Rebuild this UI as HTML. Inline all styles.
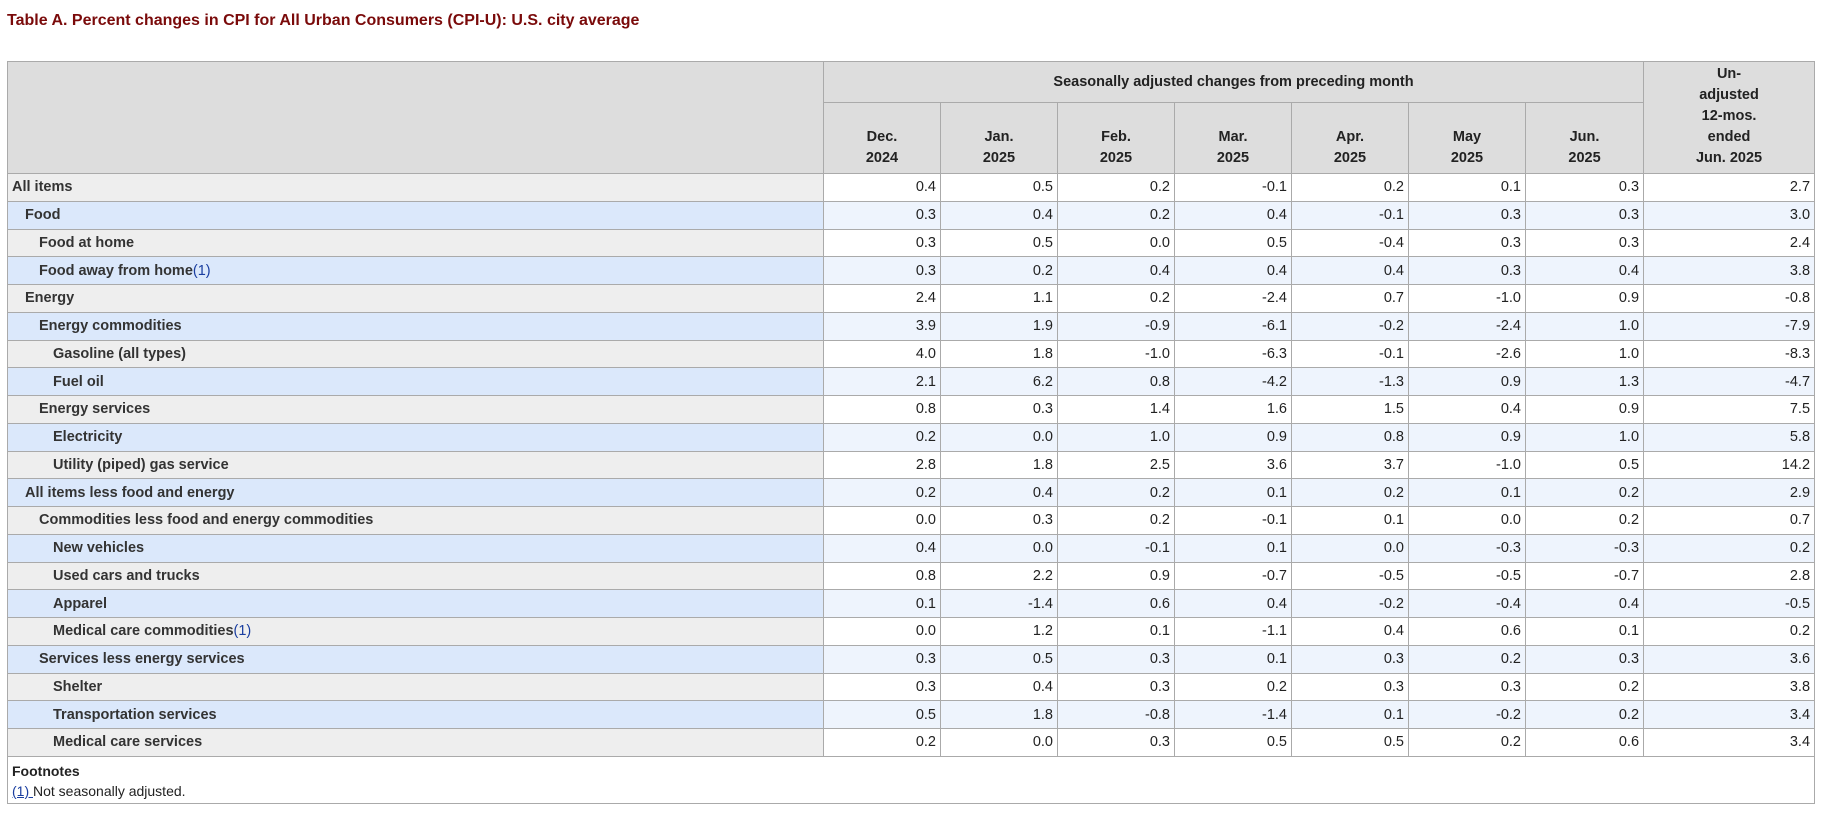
<!DOCTYPE html>
<html><head><meta charset="utf-8"><style>
body{margin:0;background:#fff;font-family:"Liberation Sans",Arial,sans-serif;width:1826px;height:822px;overflow:hidden}
h1{position:absolute;left:7px;top:12px;margin:0;font-size:16px;font-weight:bold;color:#7a0a0a}
table{position:absolute;left:7px;top:61px;border-collapse:collapse;width:1807px;table-layout:fixed}
td,th{border:1px solid #aaa;font-size:14.5px;padding:0 4px;color:#222}
th{background:#ddd;font-weight:bold;line-height:21px}
tbody td{height:26.75px;text-align:right}
tbody td.l{text-align:left;font-weight:bold;color:#333}
tbody tr:nth-child(odd) td.l{background:#eee}
tbody tr:nth-child(even) td.l{background:#dbe8fb}
tbody tr:nth-child(even) td{background:#eef4fd}
.i1{padding-left:17px}.i2{padding-left:31px}.i3{padding-left:45px}
.fn{text-align:left!important;background:#fff!important;height:42px;vertical-align:top;font-size:14px;padding-top:4px;line-height:20px}
a{color:#1a3ea0;font-weight:normal}
</style></head><body>
<h1>Table A. Percent changes in CPI for All Urban Consumers (CPI-U): U.S. city average</h1>
<table>
<colgroup><col style="width:816px"><col style="width:117px"><col style="width:117px"><col style="width:117px"><col style="width:117px"><col style="width:117px"><col style="width:117px"><col style="width:118px"><col style="width:171px"></colgroup>
<thead>
<tr><th rowspan="2" style="height:110px"></th><th colspan="7" style="height:40px">Seasonally adjusted changes from preceding month</th><th rowspan="2" style="vertical-align:bottom;padding-bottom:4px">Un-<br>adjusted<br>12-mos.<br>ended<br>Jun. 2025</th></tr>
<tr><th style="vertical-align:bottom;padding-bottom:4px;height:66px">Dec.<br>2024</th><th style="vertical-align:bottom;padding-bottom:4px">Jan.<br>2025</th><th style="vertical-align:bottom;padding-bottom:4px">Feb.<br>2025</th><th style="vertical-align:bottom;padding-bottom:4px">Mar.<br>2025</th><th style="vertical-align:bottom;padding-bottom:4px">Apr.<br>2025</th><th style="vertical-align:bottom;padding-bottom:4px">May<br>2025</th><th style="vertical-align:bottom;padding-bottom:4px">Jun.<br>2025</th></tr>
</thead>
<tbody>
<tr><td class="l">All items</td><td>0.4</td><td>0.5</td><td>0.2</td><td>-0.1</td><td>0.2</td><td>0.1</td><td>0.3</td><td>2.7</td></tr>
<tr><td class="l i1">Food</td><td>0.3</td><td>0.4</td><td>0.2</td><td>0.4</td><td>-0.1</td><td>0.3</td><td>0.3</td><td>3.0</td></tr>
<tr><td class="l i2">Food at home</td><td>0.3</td><td>0.5</td><td>0.0</td><td>0.5</td><td>-0.4</td><td>0.3</td><td>0.3</td><td>2.4</td></tr>
<tr><td class="l i2">Food away from home<a>(1)</a></td><td>0.3</td><td>0.2</td><td>0.4</td><td>0.4</td><td>0.4</td><td>0.3</td><td>0.4</td><td>3.8</td></tr>
<tr><td class="l i1">Energy</td><td>2.4</td><td>1.1</td><td>0.2</td><td>-2.4</td><td>0.7</td><td>-1.0</td><td>0.9</td><td>-0.8</td></tr>
<tr><td class="l i2">Energy commodities</td><td>3.9</td><td>1.9</td><td>-0.9</td><td>-6.1</td><td>-0.2</td><td>-2.4</td><td>1.0</td><td>-7.9</td></tr>
<tr><td class="l i3">Gasoline (all types)</td><td>4.0</td><td>1.8</td><td>-1.0</td><td>-6.3</td><td>-0.1</td><td>-2.6</td><td>1.0</td><td>-8.3</td></tr>
<tr><td class="l i3">Fuel oil</td><td>2.1</td><td>6.2</td><td>0.8</td><td>-4.2</td><td>-1.3</td><td>0.9</td><td>1.3</td><td>-4.7</td></tr>
<tr><td class="l i2">Energy services</td><td>0.8</td><td>0.3</td><td>1.4</td><td>1.6</td><td>1.5</td><td>0.4</td><td>0.9</td><td>7.5</td></tr>
<tr><td class="l i3">Electricity</td><td>0.2</td><td>0.0</td><td>1.0</td><td>0.9</td><td>0.8</td><td>0.9</td><td>1.0</td><td>5.8</td></tr>
<tr><td class="l i3">Utility (piped) gas service</td><td>2.8</td><td>1.8</td><td>2.5</td><td>3.6</td><td>3.7</td><td>-1.0</td><td>0.5</td><td>14.2</td></tr>
<tr><td class="l i1">All items less food and energy</td><td>0.2</td><td>0.4</td><td>0.2</td><td>0.1</td><td>0.2</td><td>0.1</td><td>0.2</td><td>2.9</td></tr>
<tr><td class="l i2">Commodities less food and energy commodities</td><td>0.0</td><td>0.3</td><td>0.2</td><td>-0.1</td><td>0.1</td><td>0.0</td><td>0.2</td><td>0.7</td></tr>
<tr><td class="l i3">New vehicles</td><td>0.4</td><td>0.0</td><td>-0.1</td><td>0.1</td><td>0.0</td><td>-0.3</td><td>-0.3</td><td>0.2</td></tr>
<tr><td class="l i3">Used cars and trucks</td><td>0.8</td><td>2.2</td><td>0.9</td><td>-0.7</td><td>-0.5</td><td>-0.5</td><td>-0.7</td><td>2.8</td></tr>
<tr><td class="l i3">Apparel</td><td>0.1</td><td>-1.4</td><td>0.6</td><td>0.4</td><td>-0.2</td><td>-0.4</td><td>0.4</td><td>-0.5</td></tr>
<tr><td class="l i3">Medical care commodities<a>(1)</a></td><td>0.0</td><td>1.2</td><td>0.1</td><td>-1.1</td><td>0.4</td><td>0.6</td><td>0.1</td><td>0.2</td></tr>
<tr><td class="l i2">Services less energy services</td><td>0.3</td><td>0.5</td><td>0.3</td><td>0.1</td><td>0.3</td><td>0.2</td><td>0.3</td><td>3.6</td></tr>
<tr><td class="l i3">Shelter</td><td>0.3</td><td>0.4</td><td>0.3</td><td>0.2</td><td>0.3</td><td>0.3</td><td>0.2</td><td>3.8</td></tr>
<tr><td class="l i3">Transportation services</td><td>0.5</td><td>1.8</td><td>-0.8</td><td>-1.4</td><td>0.1</td><td>-0.2</td><td>0.2</td><td>3.4</td></tr>
<tr><td class="l i3">Medical care services</td><td>0.2</td><td>0.0</td><td>0.3</td><td>0.5</td><td>0.5</td><td>0.2</td><td>0.6</td><td>3.4</td></tr>
<tr><td colspan="9" class="fn"><b>Footnotes</b><br><span style="color:#1a3ea0;text-decoration:underline">(1) </span>Not seasonally adjusted.</td></tr>
</tbody></table>
</body></html>
